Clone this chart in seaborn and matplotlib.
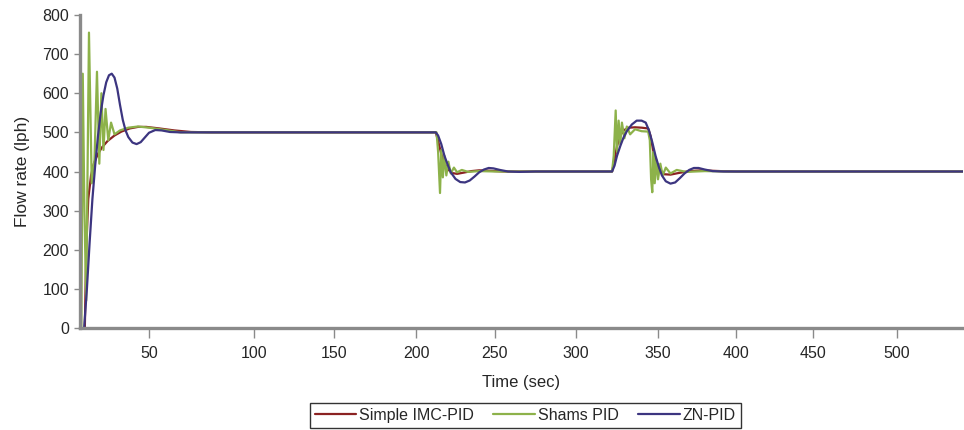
import matplotlib
matplotlib.use("Agg")
import matplotlib.pyplot as plt
import numpy as np
import pandas as pd
import seaborn as sns

# Simple IMC-PID response (time in sec, flow rate in lph)
imc_t = [3.5, 4.5, 6, 8, 10, 13, 16, 20, 25, 30, 36, 42, 48, 55, 62, 70, 80,
         212.5, 214, 216, 218, 220, 223, 226, 230, 235, 240, 246, 255, 265,
         322, 323.5, 325, 327, 329, 332, 336, 340, 344, 345.5, 347, 349, 351,
         354, 358, 363, 370, 378, 390, 400, 540]
imc_v = [0, 200, 330, 390, 420, 445, 462, 478, 492, 502, 510, 514, 514, 510, 505, 501, 500,
         500, 478, 445, 422, 406, 396, 394, 397, 401, 403, 402, 400, 400,
         400, 430, 465, 492, 505, 512, 513, 512, 510, 490, 455, 425, 405,
         393, 392, 396, 401, 403, 401, 400, 400]

# Shams PID response
shams_t = [1.0, 2.0, 3.2, 4.5, 6.5, 8.5, 10.5, 12.3, 14.0, 15.5, 17.0, 18.5, 20.5,
           22.5, 25, 29, 35, 42, 50, 58, 65,
           213.0, 214.0, 215.2, 216.0, 217.0, 218.0, 219.2, 220.5, 222, 224, 226,
           229, 233, 240, 250,
           322, 323, 324.2, 325, 326, 327, 328, 329.5, 331, 333, 336, 340, 344,
           345, 345.8, 346.5, 347.3, 348, 349, 350, 351.5, 353, 355, 358, 362,
           368, 380, 395, 540]
shams_v = [0, 650, 300, 70, 755, 370, 430, 655, 420, 600, 455, 560, 480,
           525, 495, 505, 512, 515, 512, 506, 500,
           500, 450, 345, 455, 385, 440, 390, 425, 395, 410, 398,
           404, 399, 401, 400,
           400, 440, 556, 450, 530, 470, 525, 485, 515, 495, 508, 503, 502,
           480, 380, 347, 450, 370, 430, 380, 420, 390, 410, 395, 404,
           399, 401, 400, 400]

# ZN-PID response
zn_t = [3, 5, 7, 9, 11, 13, 15, 17, 19, 21, 23, 25, 27, 29, 31, 33, 35, 38, 41,
        44, 47, 50, 53, 56, 60, 65,
        212.5, 214, 216, 218, 220, 222, 225, 228, 231, 234, 237, 240, 243, 246,
        249, 253, 258, 265, 275,
        322, 323.5, 325, 327, 329, 331, 334, 337, 340, 342.5, 344.5, 346.5,
        348.5, 350.5, 352.5, 355, 358, 361, 364, 367, 370, 373, 376, 380, 385,
        392, 540]
zn_v = [0, 100, 220, 330, 415, 490, 550, 595, 628, 646, 650, 640, 612, 570, 532,
        505, 488, 474, 470, 475, 487, 499, 506, 505, 501, 500,
        500, 492, 470, 440, 418, 398, 381, 373, 372, 377, 387, 398, 405, 409,
        408, 404, 400, 399, 400,
        400, 415, 440, 465, 487, 503, 520, 530, 530, 525, 505, 475,
        440, 412, 390, 375, 369, 372, 383, 395, 404, 409, 409, 405, 401,
        400, 400]

names = ["Simple IMC-PID", "Shams PID", "ZN-PID"]
colors = ["#8b2222", "#8db24a", "#3c3580"]

x_ticks = [50, 100, 150, 200, 250, 300, 350, 400, 450, 500]
y_ticks = [0, 100, 200, 300, 400, 500, 600, 700, 800]

# the original time axis is not evenly spaced: map time -> position
T_KNOTS = [-100, 0, 50, 100, 150, 200, 250, 300, 350, 400, 450, 500, 540, 700]
P_KNOTS = [-58, 80, 149, 254, 334, 416, 495, 576, 658, 736, 813, 897, 963, 1225]


def fwd(t):
    return np.interp(t, T_KNOTS, P_KNOTS)


def inv(p):
    return np.interp(p, P_KNOTS, T_KNOTS)


df = pd.concat([
    pd.DataFrame({"Time": imc_t, "Flow": imc_v, "Controller": names[0]}),
    pd.DataFrame({"Time": shams_t, "Flow": shams_v, "Controller": names[1]}),
    pd.DataFrame({"Time": zn_t, "Flow": zn_v, "Controller": names[2]}),
], ignore_index=True)

sns.set_style("ticks")
plt.rcParams["font.family"] = ["Liberation Sans", "DejaVu Sans"]

fig = plt.figure(figsize=(9.64, 4.30), dpi=100)
ax = fig.add_axes([80 / 964, 102 / 430, 883 / 964, 313 / 430])

sns.lineplot(data=df, x="Time", y="Flow", hue="Controller", hue_order=names,
             palette=colors, estimator=None, sort=False, linewidth=1.6, ax=ax)

ax.set_xscale("function", functions=(fwd, inv))
ax.set_xlim(0, 540)
ax.set_ylim(0, 800)
ax.set_xticks(x_ticks)
ax.set_xticklabels([str(v) for v in x_ticks])
ax.set_yticks(y_ticks)
ax.minorticks_off()

sns.despine(ax=ax)
for side in ["left", "bottom"]:
    ax.spines[side].set_color("#8a8a8a")
    ax.spines[side].set_linewidth(2.4)
ax.tick_params(axis="x", direction="out", length=7, width=1, color="#8a8a8a",
               labelsize=11.5, pad=6)
ax.tick_params(axis="y", direction="out", length=4, width=1, color="#8a8a8a",
               labelsize=11.5, pad=4)

ax.set_xlabel("Time (sec)", fontsize=12, labelpad=10)
ax.set_ylabel("Flow rate (lph)", fontsize=12.5, labelpad=9)

handles, labels = ax.get_legend_handles_labels()
ax.get_legend().remove()
leg = fig.legend(handles, labels, loc="center", bbox_to_anchor=(0.545, 0.034),
                 ncol=3, frameon=True, fancybox=False, fontsize=11.5,
                 handlelength=2.6, handletextpad=0.2, columnspacing=1.2,
                 borderpad=0.3)
leg.get_frame().set_edgecolor("black")
leg.get_frame().set_linewidth(1.0)

fig.savefig("out.png", dpi=100)
